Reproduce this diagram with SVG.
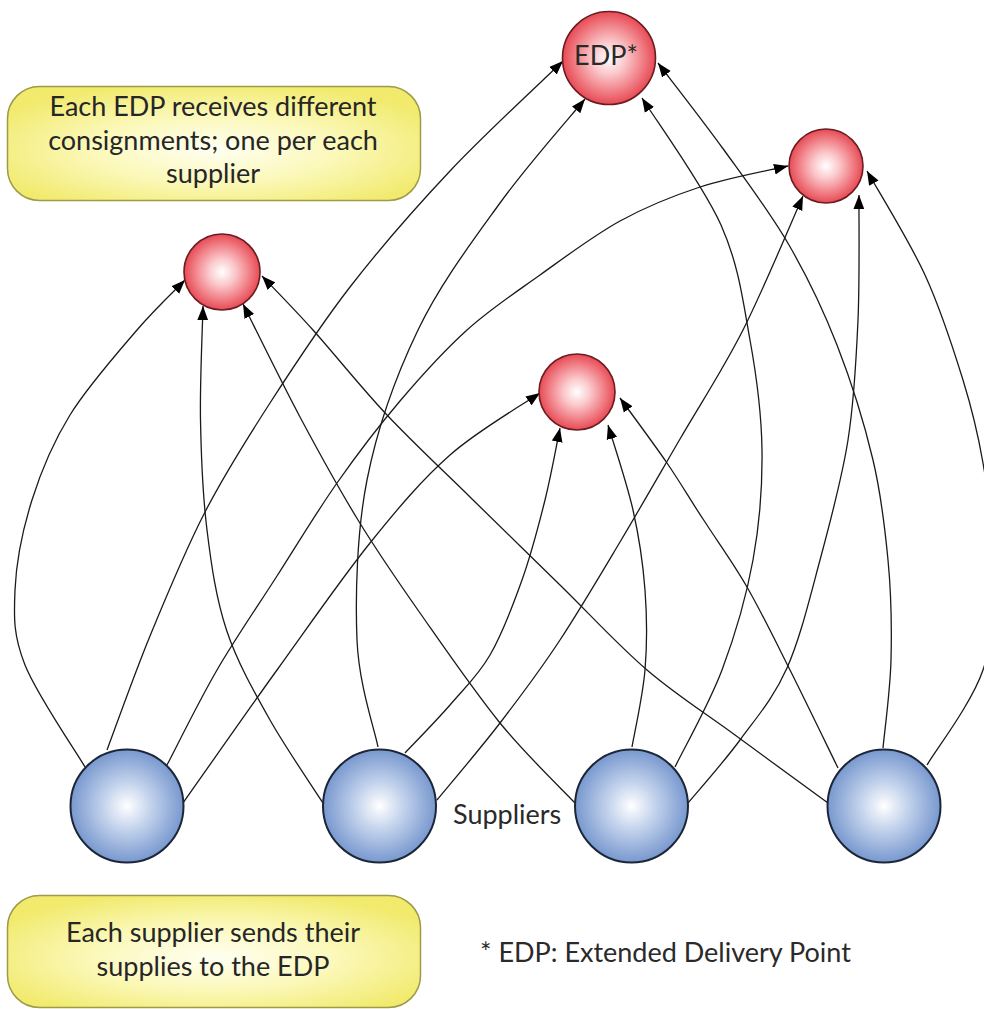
<svg xmlns="http://www.w3.org/2000/svg" width="984" height="1009" viewBox="0 0 984 1009">
<defs>
<radialGradient id="gRed" cx="50%" cy="50%" r="50%">
<stop offset="0" stop-color="#ffffff"/>
<stop offset="0.35" stop-color="#fbc8cb"/>
<stop offset="1" stop-color="#e84a54"/>
</radialGradient>
<radialGradient id="gBlue" cx="50%" cy="50%" r="50%">
<stop offset="0" stop-color="#ffffff"/>
<stop offset="0.4" stop-color="#c6d5ed"/>
<stop offset="1" stop-color="#7898cf"/>
</radialGradient>
<radialGradient id="gYel" cx="50%" cy="55%" r="60%">
<stop offset="0" stop-color="#fffff2"/>
<stop offset="0.5" stop-color="#fbf8b8"/>
<stop offset="1" stop-color="#f1ea6c"/>
</radialGradient>
<marker id="arr" markerUnits="userSpaceOnUse" markerWidth="14" markerHeight="12" viewBox="0 0 13 10" refX="13" refY="5" orient="auto">
<path d="M0,0 L13,5 L0,10 z" fill="#000"/>
</marker>
<style>
.edge{fill:none;stroke:#1a1a1a;stroke-width:1.3;marker-end:url(#arr)}
.red{fill:url(#gRed);stroke:#6a1c22;stroke-width:1.6}
.blue{fill:url(#gBlue);stroke:#1c2636;stroke-width:2}
.box{fill:url(#gYel);stroke:#9d9a4a;stroke-width:1.5}
.t{font-family:Lato,"Liberation Sans",sans-serif;font-size:27px;fill:#262626;text-anchor:middle}
.l{font-family:Lato,"Liberation Sans",sans-serif;font-size:27px;fill:#2a2a2a}
</style>
</defs>
<rect width="984" height="1009" fill="#ffffff"/>

<g id="connectors">
<path class="edge" d="M85,767 C75,750 36.7,694.5 25,665 C13.3,635.5 13.8,617.5 15,590 C16.2,562.5 22.8,529.2 32,500 C41.2,470.8 52.5,443.3 70,415 C87.5,386.7 117.8,352.5 137,330 C156.2,307.5 177,288.3 185,280"/>
<path class="edge" d="M107,750 C114.2,731 133.7,675.7 150,636 C166.3,596.3 185,550.8 205,512 C225,473.2 245.8,440.5 270,403 C294.2,365.5 320,325.7 350,287 C380,248.3 414.5,208.7 450,171 C485.5,133.3 544.2,79.3 563,61"/>
<path class="edge" d="M167,765 C175.3,749.2 198.7,701.5 217,670 C235.3,638.5 257,607.2 277,576 C297,544.8 316.5,512.2 337,483 C357.5,453.8 378.3,426.5 400,401 C421.7,375.5 443.7,351 467,330 C490.3,309 514.5,293.2 540,275 C565.5,256.8 593.3,235.7 620,221 C646.7,206.3 672,196.2 700,187 C728,177.8 773.3,169.5 788,166"/>
<path class="edge" d="M183,803 C198.7,780.8 245.8,713.3 277,670 C308.2,626.7 341.2,578.8 370,543 C398.8,507.2 421.7,480 450,455 C478.3,430 525,403.3 540,393"/>
<path class="edge" d="M323,803 C314.2,789.2 286.3,748.8 270,720 C253.7,691.2 237,661.7 226.5,630 C216,598.3 211.3,565 207,530 C202.7,495 201.2,457.3 200.5,420 C199.8,382.7 202.6,325 203,306"/>
<path class="edge" d="M378,747 C374.5,729 358.8,684.5 357,640 C355.2,595.5 356.8,531.7 367,480 C377.2,428.3 395.8,376.2 418,330 C440.2,283.8 472.2,241.5 500,203 C527.8,164.5 570.8,116.3 585,99"/>
<path class="edge" d="M405,753 C412.5,745 435.8,721.3 450,705 C464.2,688.3 478,675.8 490,655 C502,634.2 512.8,605.8 522,580 C531.2,554.2 538.7,525.3 545,500 C551.3,474.7 557.5,440 560,428"/>
<path class="edge" d="M437,800 C447.5,787.2 479.5,749.7 500,723 C520.5,696.3 540,670.5 560,640 C580,609.5 600,575.5 620,542 C640,508.5 659.5,474.3 680,439 C700.5,403.7 722.5,370.5 743,330 C763.5,289.5 793,218.3 803,196"/>
<path class="edge" d="M575,803 C562.5,789.7 525.8,754.7 500,723 C474.2,691.3 443.7,646.8 420,613 C396.3,579.2 378,552.7 358,520 C338,487.3 319.2,453 300,417 C280.8,381 252.5,322.8 243,304"/>
<path class="edge" d="M632,747 C634.2,734.2 642.8,696.2 645,670 C647.2,643.8 647,616.7 645,590 C643,563.3 639.2,537.5 633,510 C626.8,482.5 612.2,439.2 608,425"/>
<path class="edge" d="M675,767 C682.8,750.8 709,704.5 722,670 C735,635.5 746.3,596.7 753,560 C759.7,523.3 762.5,486.7 762,450 C761.5,413.3 756.8,377.5 750,340 C743.2,302.5 739,265.3 721,225 C703,184.7 655.2,119.2 642,98"/>
<path class="edge" d="M688,803 C696.7,792.5 723.5,762.5 740,740 C756.5,717.5 773.7,698 787,668 C800.3,638 809.8,598 820,560 C830.2,522 841.7,480 848,440 C854.3,400 856.2,360.8 858,320 C859.8,279.2 858.8,215.8 859,195"/>
<path class="edge" d="M828,803 C812.5,791.8 765.2,757.2 735,735 C704.8,712.8 676.2,695 647,670 C617.8,645 589.5,613.8 560,585 C530.5,556.2 498.8,525.3 470,497 C441.2,468.7 413.2,442.8 387,415 C360.8,387.2 333.8,353.2 313,330 C292.2,306.8 270.5,285 262,276"/>
<path class="edge" d="M838,768 C830,751.7 805.2,700.2 790,670 C774.8,639.8 761.2,611.7 747,587 C732.8,562.3 718.3,542.7 705,522 C691,501.3 681.2,483.7 667,463 C652.8,442.3 627.8,408.8 620,398"/>
<path class="edge" d="M883,748 C884.3,733.3 890.2,691.3 891,660 C891.8,628.7 891.2,593.3 888,560 C884.8,526.7 881.5,495.8 873,460 C864.5,424.2 851,380.8 837,345 C823,309.2 807.8,277.5 789,245 C770.2,212.5 745.8,180.3 724,150 C702.2,119.7 669,77.5 658,63"/>
<path class="edge" d="M927,765 C936.3,749.2 971.7,703.3 983,670 C994.3,636.7 995,599.5 995,565 C995,530.5 988.3,493.8 983,463 C977.7,432.2 972.7,411.3 963,380 C953.3,348.7 941,309.8 925,275 C909,240.2 876.7,188.3 867,171"/>
</g>

<g id="edp-main">
<circle class="red" cx="609" cy="58" r="46.5"/>
<text class="l" x="606" y="65" text-anchor="middle" font-size="22">EDP*</text>
</g>
<g id="edp-right"><circle class="red" cx="826" cy="166" r="37"/></g>
<g id="edp-left"><circle class="red" cx="222" cy="272" r="38"/></g>
<g id="edp-center"><circle class="red" cx="577" cy="392" r="38"/></g>

<g id="supplier-1"><circle class="blue" cx="127" cy="806" r="56.5"/></g>
<g id="supplier-2"><circle class="blue" cx="379.5" cy="806" r="56.5"/></g>
<g id="supplier-3"><circle class="blue" cx="631.5" cy="806" r="56.5"/></g>
<g id="supplier-4"><circle class="blue" cx="884" cy="806" r="56.5"/></g>

<g id="label-suppliers"><text class="l" x="453" y="824">Suppliers</text></g>

<g id="note-top">
<rect class="box" x="7.5" y="86.5" width="413" height="114" rx="32"/>
<text class="t" x="213" y="116">Each EDP receives different</text>
<text class="t" x="213" y="150">consignments; one per each</text>
<text class="t" x="213" y="183">supplier</text>
</g>

<g id="note-bottom">
<rect class="box" x="7.5" y="895.5" width="413" height="112" rx="32"/>
<text class="t" x="213" y="942">Each supplier sends their</text>
<text class="t" x="213" y="976">supplies to the EDP</text>
</g>

<g id="legend"><text class="l" x="480" y="962">* EDP: Extended Delivery Point</text></g>
</svg>
